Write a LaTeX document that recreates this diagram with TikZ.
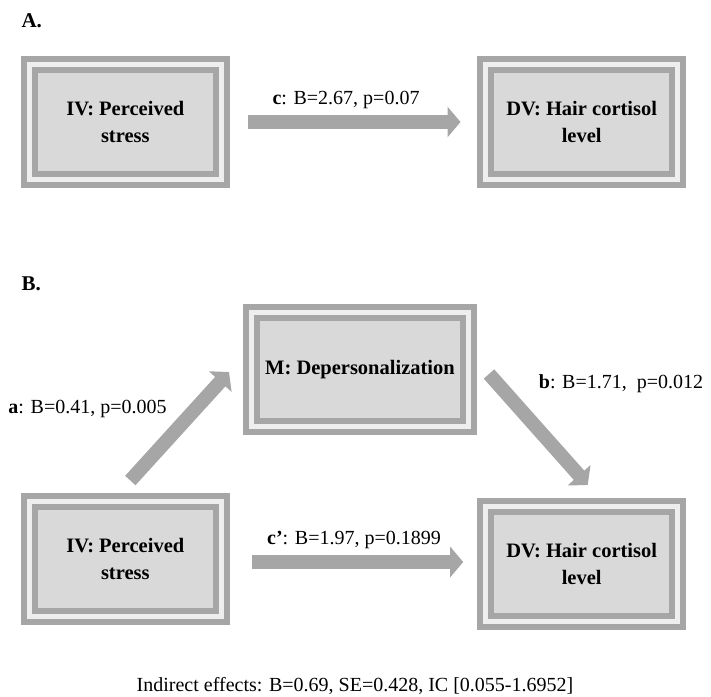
\documentclass[tikz,border=0pt]{standalone}
\usepackage{fontspec}
\setmainfont{Liberation Serif}
\usetikzlibrary{arrows.meta}
\definecolor{framegray}{HTML}{A6A6A6}
\definecolor{boxfill}{HTML}{D9D9D9}
\definecolor{ringgray}{HTML}{EEEEEE}

\tikzset{
  varbox/.style={draw=framegray, line width=6pt, double=ringgray, double distance=5pt,
    fill=boxfill, minimum width=192pt, minimum height=115pt, outer sep=8.5pt,
    align=center, font=\bfseries\fontsize{20.5}{27}\selectfont},
  pathlabel/.style={anchor=base, font=\fontsize{20}{24}\selectfont},
  panel/.style={anchor=base west, font=\bfseries\fontsize{21}{25}\selectfont},
  bigarrow/.style={draw=framegray, line width=14pt, -{Triangle[length=13pt,width=30pt]}}
}

\begin{document}
\begin{tikzpicture}[x=1pt,y=-1pt]
    \useasboundingbox (0,0) rectangle (711,696);
    % A
    \node[panel]  (pA)  at (18,27)       {A.};
    \node[varbox] (ivA) at (125.3,122)   {IV: Perceived\\stress};
    \node[varbox] (dvA) at (581.7,122)   {DV: Hair cortisol\\level};
    \draw[bigarrow, shorten <=18pt, shorten >=16.7pt] (ivA) -- (dvA);
    \node[pathlabel] (labc) at (346,104) {\textbf{c}: B=2.67, p=0.07};
    % B
    \node[panel]  (pB)  at (18,290)      {B.};
    \node[varbox, minimum width=217pt, minimum height=114pt] (mB) at (360,369.5) {M: Depersonalization};
    \node[varbox] (ivB) at (125.3,558.5) {IV: Perceived\\stress};
    \node[varbox] (dvB) at (581.7,564)   {DV: Hair cortisol\\level};
    \draw[bigarrow] ([xshift=5pt,yshift=12pt]ivB.north) -- ([xshift=-14pt,yshift=-2.5pt]mB.west);
    \draw[bigarrow] ([xshift=12pt,yshift=-4.5pt]mB.east) -- ([xshift=6pt,yshift=13pt]dvB.north);
    \draw[bigarrow] ([xshift=22pt,yshift=-3.5pt]ivB.east) -- ([xshift=-14pt,yshift=2pt]dvB.west);
    \node[pathlabel] (laba)  at (87.5,413) {\textbf{a}: B=0.41, p=0.005};
    \node[pathlabel] (labb)  at (621,388)  {\textbf{b}: B=1.71, \ p=0.012};
    \node[pathlabel] (labcp) at (354,544)  {\textbf{c’}: B=1.97, p=0.1899};
    % indirect
    \node[pathlabel] (ind) at (355,691) {Indirect effects: B=0.69, SE=0.428, IC [0.055-1.6952]};
\end{tikzpicture}
\end{document}
